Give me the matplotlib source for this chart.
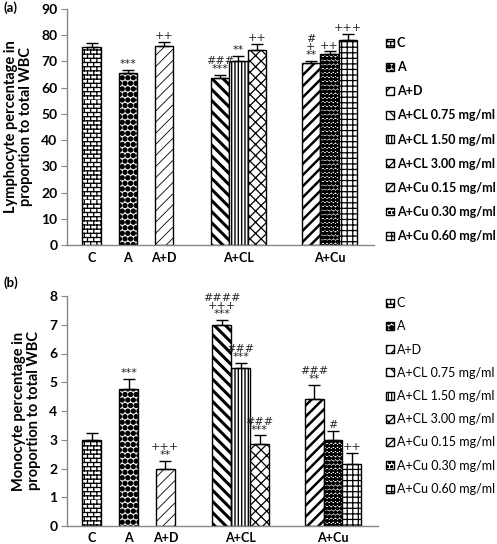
import numpy as np
import matplotlib
matplotlib.use("Agg")
import matplotlib.pyplot as plt
import matplotlib.hatch as mhatch
from matplotlib.path import Path

# data
groups = ["C", "A", "A+D", "A+CL", "A+Cu"]
series = ["C", "A", "A+D",
          "A+CL 0.75 mg/ml", "A+CL 1.50 mg/ml", "A+CL 3.00 mg/ml",
          "A+Cu 0.15 mg/ml", "A+Cu 0.30 mg/ml", "A+Cu 0.60 mg/ml"]

lympho = [75.5, 65.5, 75.8, 63.5, 70.2, 74.5, 69.3, 72.8, 78.0]
lympho_err = [1.6, 1.4, 1.8, 1.4, 2.0, 2.1, 1.0, 1.1, 2.5]
lympho_sig = ["", "***", "++", "###\n***", "**", "++", "#\n+\n**", "++", "+++"]

mono = [3.0, 4.75, 2.0, 7.0, 5.5, 2.86, 4.43, 3.0, 2.14]
mono_err = [0.25, 0.37, 0.27, 0.17, 0.17, 0.29, 0.49, 0.3, 0.41]
mono_sig = ["", "***", "+++\n**", "####\n+++\n***", "###\n***", "###\n***",
            "###\n**", "#", "++"]


# brick hatch for the control bars (takes the place of the 'O' pattern)
class BrickHatch(mhatch.HatchPatternBase):
    def __init__(self, hatch, density):
        self.num_rows = int(hatch.count('O') * density)
        self.num_rows += self.num_rows % 2
        self.num_cols = max(self.num_rows * 2 // 3, 1)
        self.num_vertices = self.num_rows * (2 + 2 * self.num_cols)

    def set_vertices_and_codes(self, vertices, codes):
        h = 1.0 / self.num_rows
        w = 1.0 / self.num_cols
        i = 0
        for r in range(self.num_rows):
            y = r * h
            vertices[i] = (0.0, y)
            vertices[i + 1] = (1.0, y)
            codes[i], codes[i + 1] = Path.MOVETO, Path.LINETO
            i += 2
            off = 0.0 if r % 2 == 0 else w / 2
            for c in range(self.num_cols):
                x = c * w + off
                vertices[i] = (x, y)
                vertices[i + 1] = (x, y + h)
                codes[i], codes[i + 1] = Path.MOVETO, Path.LINETO
                i += 2


mhatch._hatch_types = [BrickHatch if t is mhatch.LargeCircles else t
                       for t in mhatch._hatch_types]
mhatch.SmallFilledCircles.size = 0.36

plt.rcParams['font.family'] = ['Lato', 'DejaVu Sans']
plt.rcParams['hatch.linewidth'] = 0.9

hatches = ['OOOO', '...', '///', '\\\\\\', '|||||', 'xxx', '///', 'oooo', '+++']
hatch_lw = [0.9, 0.9, 0.6, 2.2, 1.0, 0.9, 1.8, 1.6, 0.9]

xpos = [0, 1.95, 3.9, 6.9, 7.9, 8.9, 11.8, 12.8, 13.8]
group_pos = [0, 1.95, 3.9, 7.9, 12.8]

fig = plt.figure(figsize=(4.97, 5.44), dpi=100)
ax_a = fig.add_axes([67 / 497, 1 - 245 / 544, 307 / 497, 236 / 544])
ax_b = fig.add_axes([67 / 497, 1 - 526 / 544, 311 / 497, 230 / 544])


def draw_panel(ax, vals, errs, sigs, ymax, ylabel, bold_legend, leg_top, leg_space, xpad):
    for i in range(len(series)):
        bars = ax.bar(xpos[i], vals[i], width=1.0, color='white', edgecolor='black',
                      linewidth=1.0, hatch=hatches[i], label=series[i])
        for b in bars:
            if hasattr(b, 'set_hatch_linewidth'):
                b.set_hatch_linewidth(hatch_lw[i])
        ax.errorbar(xpos[i], vals[i], yerr=[[0], [errs[i]]], fmt='none',
                    ecolor='black', elinewidth=1.0, capsize=4, capthick=1.0)
        if sigs[i]:
            ax.annotate(sigs[i], (xpos[i], vals[i] + errs[i]), xytext=(0, 0.5),
                        textcoords='offset points', ha='center', va='bottom',
                        fontsize=8, family='DejaVu Sans', color='#222222',
                        linespacing=0.75)
    ax.set_xlim(-1.32, 15.19)
    ax.set_ylim(0, ymax)
    ax.set_xticks(group_pos)
    ax.set_xticklabels(groups, fontweight='bold', fontsize=9)
    ax.tick_params(axis='x', length=0, pad=xpad)
    ax.tick_params(axis='y', direction='out', length=4, color='#888888',
                   labelsize=10, pad=3)
    for lab in ax.get_yticklabels():
        lab.set_fontweight('bold')
    for s in ['top', 'right']:
        ax.spines[s].set_visible(False)
    for s in ['left', 'bottom']:
        ax.spines[s].set_color('#888888')
        ax.spines[s].set_linewidth(1.0)
    ax.set_ylabel(ylabel, fontweight='bold', fontsize=10.5, labelpad=6,
                  linespacing=1.05)
    ax.legend(loc='upper left', bbox_to_anchor=(386 / 497, leg_top),
              bbox_transform=fig.transFigure, frameon=False,
              handlelength=0.6, handleheight=0.6, handletextpad=0.25,
              labelspacing=leg_space, borderaxespad=0, borderpad=0,
              prop={'size': 9, 'weight': 'bold' if bold_legend else 'normal'})


draw_panel(ax_a, lympho, lympho_err, lympho_sig, 90,
           "Lymphocyte percentage in\nproportion to total WBC", True,
           1 - 37 / 544, 0.97, 5)
ax_a.set_yticks(np.arange(0, 91, 10))

draw_panel(ax_b, mono, mono_err, mono_sig, 8,
           "Monocyte percentage in\nproportion to total WBC", False,
           1 - 297 / 544, 0.9, 4)
ax_b.set_yticks(np.arange(0, 9, 1))

fig.text(4 / 497, 1 - 8 / 544, "(a)", fontsize=9.5, fontweight='bold', va='center')
fig.text(4 / 497, 1 - 283 / 544, "(b)", fontsize=9.5, fontweight='bold', va='center')

fig.savefig("out.png", dpi=100)
